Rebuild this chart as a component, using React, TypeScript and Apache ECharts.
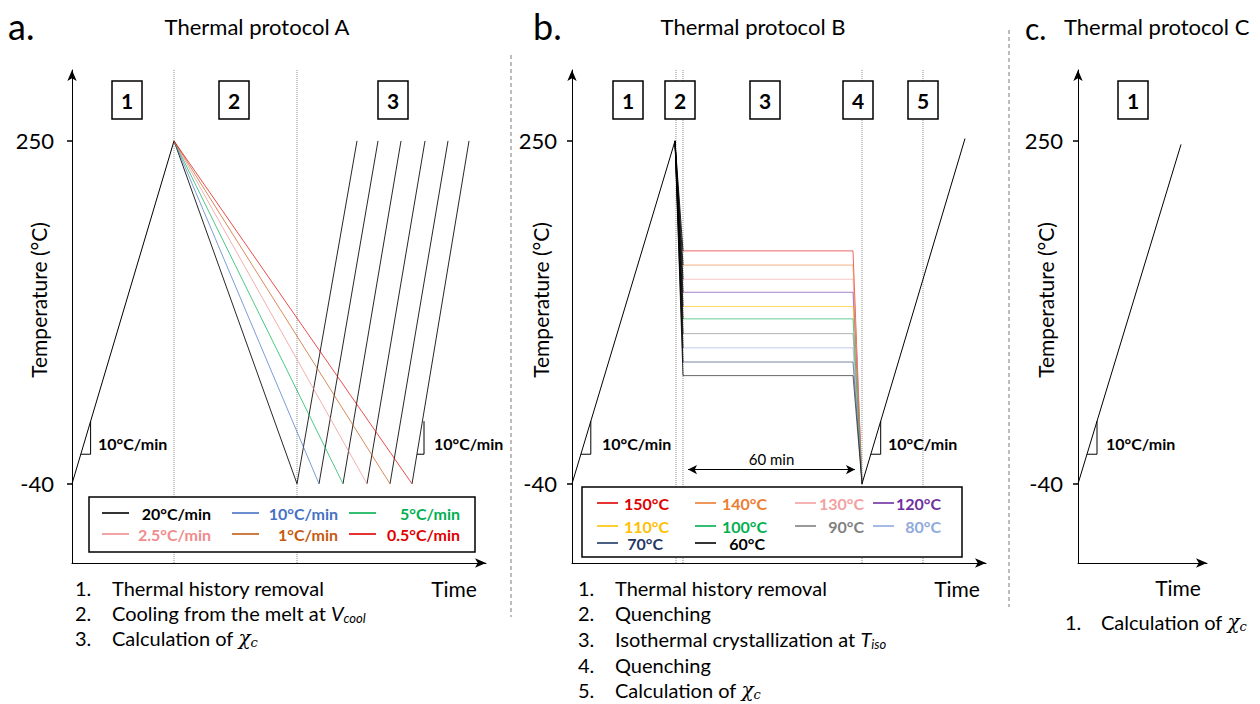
import React, { useEffect, useRef } from "react";
import * as echarts from "echarts";

const FONT = "Lato, 'Open Sans', sans-serif";
const MATH = "'DejaVu Serif', serif";

// ---------- temperature axis ----------
const TEMP_MIN = -107;
const TEMP_MAX = 310;
const tempTicks = [-40, 250];

// ---------- Panel A : thermal protocol A ----------
const rateLabels = ["20°C/min", "10°C/min", "5°C/min", "2.5°C/min", "1°C/min", "0.5°C/min"];
const rateColors = ["#000000", "#4472C4", "#00B050", "#F08C8C", "#C55A11", "#E00000"];
const heatA = [[0, -40], [102, 250]];
const meltPeakA = [102, 250];
const coolEndTimeA = [225, 247, 271, 295, 318, 340];
const reheatTopTimeA = [285, 306, 329, 353, 376, 397];
const phaseTimesA = [102, 225];
const slopeMarksA = [
  [[8.8, -15], [18.6, -15], [18.6, 13]],
  [[345, -15], [352, -15], [352, 13]],
];
const stepsA = ["1", "2", "3"];
const listA = ["Thermal history removal", "Cooling from the melt at ", "Calculation of "];

// ---------- Panel B : thermal protocol B ----------
const isoLabels = ["150°C", "140°C", "130°C", "120°C", "110°C", "100°C", "90°C", "80°C", "70°C", "60°C"];
const isoColors = ["#E00000", "#ED7D31", "#F4A0A0", "#7030A0", "#FFC000", "#00B050", "#808080", "#8FAADC", "#1F3864", "#000000"];
const isoLevelB = [157, 145, 133, 122, 110, 99.5, 87, 75, 63, 51.5];
const heatB = [[0, -40], [103, 250]];
const meltPeakB = [103, 250];
const plateauStartB = 111;
const plateauEndB = 281;
const quenchEndB = [290, -40];
const reheatB = [[290, -40], [393, 252]];
const phaseTimesB = [104, 111, 290, 351];
const holdArrowB = [[116, -28], [283, -28]];
const slopeMarksB = [
  [[8.9, -15], [18.8, -15], [18.8, 13]],
  [[298.8, -15], [308.7, -15], [308.7, 13]],
];
const stepsB = ["1", "2", "3", "4", "5"];
const listB = ["Thermal history removal", "Quenching", "Isothermal crystallization at ", "Quenching", "Calculation of "];

// ---------- Panel C : thermal protocol C ----------
const heatC = [[0, -40], [103, 247]];
const slopeMarksC = [[[9, -15], [19, -15], [19, 13]]];
const stepsC = ["1"];
const listC = ["Calculation of "];

// ---------- layout ----------
const grids = [
  { left: 72, top: 70, width: 414, height: 493 },
  { left: 572, top: 70, width: 414, height: 493 },
  { left: 1078, top: 70, width: 129, height: 493 },
];
const labelMargins = [18, 15, 15];

function text(x: number, y: number, t: string, o: any = {}) {
  return {
    type: "text",
    x,
    y,
    z: 100,
    silent: true,
    rotation: o.rotation || 0,
    style: {
      text: t,
      fill: o.fill || "#000",
      fontFamily: o.fontFamily || FONT,
      fontSize: o.fontSize || 20,
      fontWeight: o.fontWeight || "normal",
      fontStyle: o.fontStyle || "normal",
      align: o.align || "left",
      verticalAlign: "middle",
      rich: o.rich,
    },
  };
}

function box(cx: number, label: string) {
  return [
    {
      type: "rect",
      z: 100,
      silent: true,
      shape: { x: cx - 15, y: 81, width: 30, height: 38 },
      style: { fill: "#fff", stroke: "#000", lineWidth: 1.5 },
    },
    text(cx, 100, label, { fontSize: 21, fontWeight: "bold", align: "center" }),
  ];
}

function vline(x: number, y1: number, y2: number) {
  return {
    type: "line",
    z: 100,
    silent: true,
    shape: { x1: x, y1, x2: x, y2 },
    style: { stroke: "#7a7a7a", lineWidth: 1, lineDash: [4, 3] },
  };
}

function hseg(x1: number, x2: number, y: number, color: string) {
  return {
    type: "line",
    z: 101,
    silent: true,
    shape: { x1, y1: y, x2, y2: y },
    style: { stroke: color, lineWidth: 1.6 },
  };
}

const LIST_SIZE = 20;

const richSub = (mainFont: string, size: number) => ({
  t: { fontFamily: FONT, fontSize: size, fill: "#000" },
  i: { fontFamily: mainFont, fontSize: size, fontStyle: "italic", fill: "#000" },
  s: { fontFamily: mainFont, fontSize: Math.round(size * 0.65), fontStyle: "italic", fill: "#000", padding: [9, 0, 0, 0] },
});

function listItems(numX: number, txtX: number, ys: number[], items: string[], extras: Record<number, [string, string, string]>) {
  const out: any[] = [];
  items.forEach((it, i) => {
    out.push(text(numX, ys[i], `${i + 1}.`, { fontSize: LIST_SIZE }));
    const ex = extras[i];
    if (ex) {
      out.push(
        text(txtX, ys[i], `{t|${it}}{i|${ex[0]}}{s|${ex[1]}}`, {
          fontSize: LIST_SIZE,
          rich: richSub(ex[2], LIST_SIZE),
        })
      );
    } else {
      out.push(text(txtX, ys[i], it, { fontSize: LIST_SIZE }));
    }
  });
  return out;
}

export default function App() {
  const ref = useRef<HTMLDivElement>(null);

  useEffect(() => {
    if (!ref.current) return;
    const chart = echarts.init(ref.current, undefined, { renderer: "svg" });

    const series: any[] = [];
    const line = (g: number, data: any[], color: string, extra: any = {}) =>
      series.push({
        type: "line",
        xAxisIndex: g,
        yAxisIndex: g,
        data,
        symbol: "none",
        silent: true,
        z: 3,
        lineStyle: { color, width: 1, opacity: extra.opacity ?? 1 },
        ...extra,
      });
    const dotted = (g: number, t: number) =>
      line(g, [[t, TEMP_MIN], [t, TEMP_MAX]], "#8c8c8c", { z: 1, lineStyle: { color: "#8c8c8c", width: 1, type: "dotted" } });

    // Panel A
    phaseTimesA.forEach((t) => dotted(0, t));
    line(0, heatA, "#000");
    coolEndTimeA.forEach((t, i) => {
      line(0, [meltPeakA, [t, -40]], rateColors[i], { z: 4, lineStyle: { color: rateColors[i], width: 1, opacity: i === 0 ? 0.85 : 0.7 } });
      line(0, [[t, -40], [reheatTopTimeA[i], 250]], "#000", { lineStyle: { color: "#000", width: 1, opacity: 0.85 } });
    });
    slopeMarksA.forEach((m) => line(0, m, "#000"));

    // Panel B
    phaseTimesB.forEach((t) => dotted(1, t));
    line(1, heatB, "#000");
    isoLevelB.forEach((lv, i) => {
      line(1, [[plateauStartB, lv], [plateauEndB, lv], quenchEndB], isoColors[i], {
        z: 3,
        lineStyle: { color: isoColors[i], width: 1, opacity: 0.6 },
      });
      line(1, [meltPeakB, [plateauStartB, lv]], "#000", { z: 4, lineStyle: { color: "#000", width: 1, opacity: 0.8 } });
    });
    line(1, reheatB, "#000", {
      markLine: {
        silent: true,
        symbol: ["arrow", "arrow"],
        symbolSize: [7, 9],
        lineStyle: { color: "#000", width: 1, type: "solid" },
        label: {
          show: true,
          position: "insideMiddleTop",
          formatter: "60 min",
          fontFamily: FONT,
          fontSize: 15,
          color: "#000",
          distance: 3,
        },
        data: [[{ coord: holdArrowB[0] }, { coord: holdArrowB[1] }]],
      },
    });
    slopeMarksB.forEach((m) => line(1, m, "#000"));

    // Panel C
    line(2, heatC, "#000");
    slopeMarksC.forEach((m) => line(2, m, "#000"));

    const axisLine = {
      show: true,
      onZero: false,
      symbol: ["none", "arrow"],
      symbolSize: [7, 11],
      lineStyle: { color: "#000", width: 1 },
    };

    const graphics: any[] = [];
    // separators
    graphics.push(vline(511, 55, 617));
    graphics.push(vline(1009, 30, 607));
    // panel letters and titles
    graphics.push(text(8, 26, "a.", { fontSize: 36 }));
    graphics.push(text(257, 26, "Thermal protocol A", { fontSize: 22, align: "center" }));
    graphics.push(text(533, 26, "b.", { fontSize: 36 }));
    graphics.push(text(753, 26, "Thermal protocol B", { fontSize: 22, align: "center" }));
    graphics.push(text(1025, 28, "c.", { fontSize: 30 }));
    graphics.push(text(1064, 26, "Thermal protocol C", { fontSize: 22 }));
    // y titles
    [38, 540, 1045].forEach((x) =>
      graphics.push(text(x, 300, "Temperature (°C)", { fontSize: 21, align: "center", rotation: Math.PI / 2 }))
    );
    // Time labels
    graphics.push(text(454, 588, "Time", { fontSize: 21, align: "center" }));
    graphics.push(text(957, 588, "Time", { fontSize: 21, align: "center" }));
    graphics.push(text(1178, 587, "Time", { fontSize: 21, align: "center" }));
    // step boxes
    [127, 234, 393].forEach((cx, i) => graphics.push(...box(cx, stepsA[i])));
    [628, 680, 765, 858, 923].forEach((cx, i) => graphics.push(...box(cx, stepsB[i])));
    [1133].forEach((cx, i) => graphics.push(...box(cx, stepsC[i])));
    // slope labels
    [98, 434, 602, 888, 1106].forEach((x) =>
      graphics.push(text(x, 443, "10°C/min", { fontSize: 16, fontWeight: "bold" }))
    );

    // legend A
    graphics.push({
      type: "rect",
      z: 99,
      silent: true,
      shape: { x: 89, y: 497, width: 386, height: 55 },
      style: { fill: "#fff", stroke: "#000", lineWidth: 1.5 },
    });
    const colLineA = [102, 232, 349];
    const colTextA = [211, 338, 460];
    const rowYA = [513, 534];
    rateLabels.forEach((lab, i) => {
      const r = Math.floor(i / 3);
      const c = i % 3;
      graphics.push(hseg(colLineA[c], colLineA[c] + 27, rowYA[r], rateColors[i]));
      graphics.push(text(colTextA[c], rowYA[r], lab, { fontSize: 16, fontWeight: "bold", align: "right", fill: rateColors[i] }));
    });

    // legend B
    graphics.push({
      type: "rect",
      z: 99,
      silent: true,
      shape: { x: 582, y: 487, width: 380, height: 70 },
      style: { fill: "#fff", stroke: "#000", lineWidth: 1.5 },
    });
    const colLineB = [597, 695, 795, 873];
    const colTextB = [[669, 767, 864, 941], [669, 767, 864, 941], [663, 765]];
    const rowYB = [503, 526, 543];
    isoLabels.forEach((lab, i) => {
      const r = Math.floor(i / 4);
      const c = i % 4;
      graphics.push(hseg(colLineB[c], colLineB[c] + 21, rowYB[r], isoColors[i]));
      graphics.push(text(colTextB[r][c], rowYB[r], lab, { fontSize: 16, fontWeight: "bold", align: "right", fill: isoColors[i] }));
    });

    // lists
    graphics.push(
      ...listItems(75, 112, [588, 613, 638], listA, {
        1: ["V", "cool", FONT],
        2: ["χ", "c", MATH],
      })
    );
    graphics.push(
      ...listItems(578, 615, [588, 613, 639, 665, 690], listB, {
        2: ["T", "iso", FONT],
        4: ["χ", "c", MATH],
      })
    );
    graphics.push(
      ...listItems(1065, 1101, [622], listC, {
        0: ["χ", "c", MATH],
      })
    );

    chart.setOption({
      animation: false,
      backgroundColor: "#fff",
      grid: grids.map((g) => ({ ...g, containLabel: false, outerBoundsMode: "none" })),
      xAxis: grids.map((g, i) => ({
        type: "value",
        gridIndex: i,
        min: 0,
        max: g.width,
        axisLine,
        axisTick: { show: false },
        axisLabel: { show: false },
        splitLine: { show: false },
      })),
      yAxis: grids.map((g, i) => ({
        type: "value",
        gridIndex: i,
        min: TEMP_MIN,
        max: TEMP_MAX,
        axisLine,
        axisTick: { show: true, customValues: tempTicks, length: 5, lineStyle: { color: "#000", width: 1.5 } },
        axisLabel: {
          show: true,
          customValues: tempTicks,
          margin: labelMargins[i],
          fontFamily: FONT,
          fontSize: 22,
          color: "#000",
        },
        splitLine: { show: false },
      })),
      series,
      graphic: graphics,
    });

    return () => chart.dispose();
  }, []);

  return (
    <div
      ref={ref}
      style={{ position: "fixed", left: 0, top: 0, width: 1260, height: 704, background: "#fff" }}
    />
  );
}
